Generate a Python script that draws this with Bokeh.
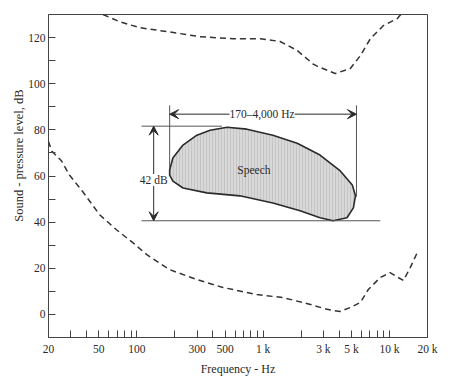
import math
from bokeh.plotting import figure
from bokeh.models import FixedTicker, Label, Arrow, VeeHead, Range1d, Title
from bokeh.embed import file_html
from bokeh.resources import INLINE

# ---- data ----
# threshold of pain (upper dashed curve)
pain_freq = [54, 73, 105, 173, 316, 578, 948, 1364, 1860, 2490, 2700, 3720, 4900, 5890, 7060, 8960, 11500, 12300]
pain_db = [130, 126.9, 124.3, 122.6, 120.4, 119.5, 119.5, 118.3, 114.4, 108.5, 107.5, 104.4, 106.6, 112.2, 119.5, 125.2, 128.2, 130]

# threshold of hearing (lower dashed curve)
hear_freq = [20, 21.2, 25.4, 29.3, 37, 50.8, 69, 93, 120, 182, 299, 480, 894, 1440, 2370, 3200, 3580, 4080,
             4900, 5890, 6800, 8460, 10100, 11700, 12900, 14600, 16600]
hear_db = [75, 70.8, 66.5, 60.4, 53.5, 43.2, 36.7, 31.1, 25.9, 19.4, 15.1, 11.7, 8.6, 7.3, 4.3, 2.2, 1.7, 1.3,
           3.0, 5.2, 10.8, 16.0, 18.1, 16.0, 14.7, 20.3, 26.8]

# speech area outline
speech_freq = [182, 193, 232, 299, 380, 518, 744, 1194, 1860, 2820, 4080, 5080, 5380, 5180, 4610, 3580,
               2820, 1960, 1194, 654, 358, 232, 193, 182]
speech_db = [62.6, 67.8, 73.4, 77.7, 79.8, 81.1, 80.3, 77.7, 74.2, 69.1, 62.2, 56.1, 51.4, 46.2, 41.9, 40.6,
             41.9, 44.9, 48.3, 51.4, 52.7, 54.8, 57.8, 60.4]

# dimension annotations
speech_f_low, speech_f_high = 182, 5480
speech_db_top, speech_db_bottom = 81.6, 40.6
dim_top_db = 90.6
arrow_h_db = 86.8
left_line_end_db, right_line_end_db = 63.4, 51.0
vert_arrow_freq = 136
top_line_freqs = [109, 472]
bottom_line_freqs = [109, 8460]

x_major = [20, 50, 100, 300, 500, 1000, 3000, 5000, 10000, 20000]
x_labels = ["20", "50", "100", "300", "500", "1 k", "3 k", "5 k", "10 k", "20 k"]
x_minor = [30, 40, 60, 70, 80, 90, 200, 400, 600, 700, 800, 900,
           2000, 4000, 6000, 7000, 8000, 9000]
y_major = [0, 20, 40, 60, 80, 100, 120]
y_minor = [10, 30, 50, 70, 90, 110]

FONT = "Liberation Serif"
INK = "#2a2a2a"

p = figure(width=442, height=378, x_axis_type="log",
           x_range=Range1d(20, 20000), y_range=Range1d(-10, 130),
           output_backend="svg", toolbar_location=None,
           min_border_left=48, min_border_top=14, min_border_right=15, min_border_bottom=38)

p.xgrid.visible = False
p.ygrid.visible = False
p.outline_line_color = "#444444"
p.outline_line_width = 1
p.background_fill_color = "white"
p.border_fill_color = "white"

p.xaxis.ticker = FixedTicker(ticks=x_major, minor_ticks=x_minor)
p.xaxis.major_label_overrides = {k: v for k, v in zip(x_major, x_labels)}
p.yaxis.ticker = FixedTicker(ticks=y_major, minor_ticks=y_minor)

for ax in (p.xaxis[0], p.yaxis[0]):
    ax.axis_line_color = "#444444"
    ax.major_tick_line_color = "#444444"
    ax.minor_tick_line_color = "#444444"
    ax.major_tick_in = 7
    ax.major_tick_out = 0
    ax.minor_tick_in = 7
    ax.minor_tick_out = 0
    ax.major_label_text_font = FONT
    ax.major_label_text_font_size = "11.5px"
    ax.major_label_text_color = INK
p.xaxis.major_label_standoff = 5
p.yaxis.major_label_standoff = 3

p.xaxis.axis_label = "Frequency - Hz"
p.xaxis.axis_label_text_font = FONT
p.xaxis.axis_label_text_font_size = "12px"
p.xaxis.axis_label_text_font_style = "normal"
p.xaxis.axis_label_text_color = INK
p.xaxis.axis_label_standoff = 4

p.add_layout(Title(text="Sound - pressure level, dB", align="right", offset=75,
                   text_font=FONT, text_font_size="12.5px", text_font_style="normal",
                   text_color=INK, standoff=0), "left")

# curves
p.line(pain_freq, pain_db, line_color="#333333", line_width=1.5, line_dash="6 4")
p.line(hear_freq, hear_db, line_color="#333333", line_width=1.5, line_dash="6 4")

# speech area
p.patch(speech_freq, speech_db, fill_color="#d8d8d8", line_color=INK, line_width=1.6,
        hatch_pattern="|", hatch_color="#bdbdbd", hatch_scale=3, hatch_weight=1, hatch_alpha=0.7)

# dimension lines
thin = dict(line_color="#555555", line_width=1)
p.line([speech_f_low, speech_f_low], [dim_top_db, left_line_end_db], **thin)
p.line([speech_f_high, speech_f_high], [dim_top_db, right_line_end_db], **thin)
p.line(top_line_freqs, [speech_db_top, speech_db_top], **thin)
p.line(bottom_line_freqs, [speech_db_bottom, speech_db_bottom], **thin)

def head():
    return VeeHead(size=9, fill_color=INK, line_color=INK, line_width=1)

p.add_layout(Arrow(start=head(), end=head(), x_start=speech_f_low, y_start=arrow_h_db,
                   x_end=speech_f_high, y_end=arrow_h_db, line_color=INK, line_width=1))
p.add_layout(Arrow(start=head(), end=head(), x_start=vert_arrow_freq, y_start=speech_db_top,
                   x_end=vert_arrow_freq, y_end=speech_db_bottom, line_color=INK, line_width=1))

p.add_layout(Label(x=980, y=arrow_h_db, text="170–4,000 Hz", text_align="center",
                   text_baseline="middle", text_font=FONT, text_font_size="11.5px", text_color=INK,
                   background_fill_color="white", background_fill_alpha=1.0))
p.add_layout(Label(x=vert_arrow_freq, y=58.3, text="42 dB", text_align="center",
                   text_baseline="middle", text_font=FONT, text_font_size="11.5px", text_color=INK,
                   background_fill_color="white", background_fill_alpha=1.0))
p.add_layout(Label(x=846, y=62.6, text="Speech", text_align="center",
                   text_baseline="middle", text_font=FONT, text_font_size="11.5px", text_color=INK))

open("out.html", "w").write(file_html(p, INLINE))
